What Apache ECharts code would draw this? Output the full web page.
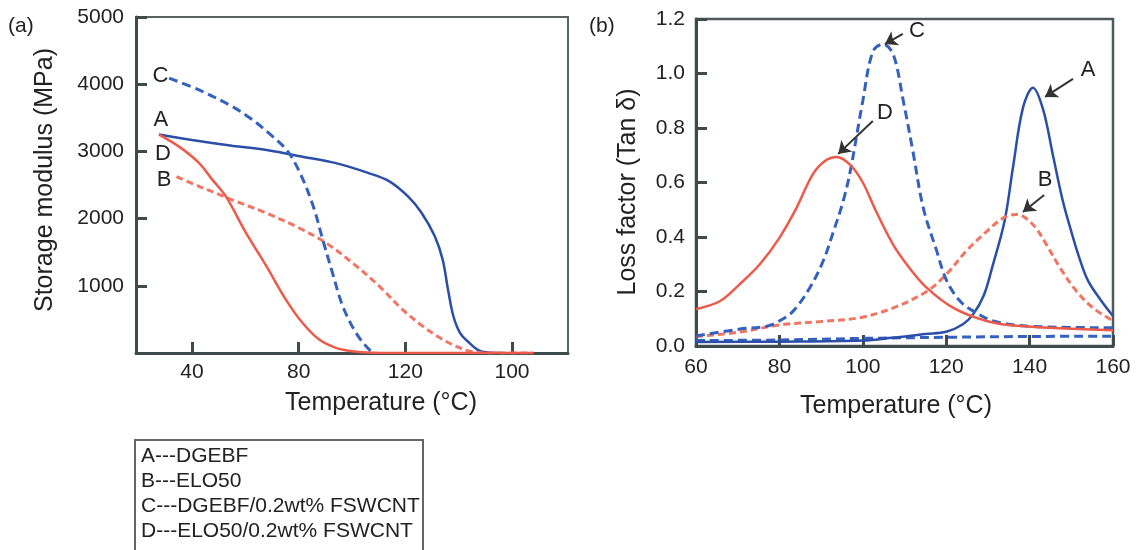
<!DOCTYPE html>
<html>
<head>
<meta charset="utf-8">
<script src="https://cdn.jsdelivr.net/npm/echarts@6/dist/echarts.min.js"></script>
<style>
  html, body { margin: 0; padding: 0; background: #fff; }
  #chart { width: 1140px; height: 550px; }
</style>
</head>
<body>
<div id="chart"></div>
<script>
const FONT = '"Liberation Sans", Arial, Helvetica, sans-serif';

// (a) Storage modulus, [temperature (°C), modulus (MPa)]
const storageA = [[27.6,3250],[40,3170],[55,3085],[69,3015],[81,2925],[94,2825],[106,2680],[114,2555],[121,2330],[126,2090],[131,1740],[134,1390],[136,945],[138,550],[140.5,300],[144,150],[147,50],[150,10],[156,0]];
const storageB = [[34.2,2625],[42.6,2480],[48.9,2380],[55,2280],[67.7,2085],[80.2,1860],[90.2,1640],[100.2,1340],[110.2,995],[119,645],[126.5,400],[134,200],[139,100],[144,27],[150,0],[168,0]];
const storageC = [[31.4,4090],[42.6,3915],[55,3670],[62,3490],[68,3300],[75.5,3020],[80.5,2680],[85.5,2180],[89,1690],[92.7,1190],[96.5,700],[101.5,300],[106.5,50],[109,0]];
const storageD = [[27.6,3250],[35,3075],[42.6,2830],[47.6,2580],[52.7,2330],[60.2,1790],[68,1285],[75.2,795],[81.4,450],[87.7,200],[94,77],[100,27],[108,5],[120,0],[168,0]];

// (b) Loss factor, [temperature (°C), tan δ]
const tanA = [[60,0.015],[80,0.016],[100,0.02],[107,0.03],[115,0.044],[120,0.052],[124,0.08],[126.5,0.117],[129,0.185],[131,0.287],[134,0.459],[136,0.654],[138.4,0.874],[140.8,0.948],[143.2,0.87],[145.6,0.70],[148,0.53],[150,0.42],[152,0.32],[154,0.24],[157,0.17],[160,0.11]];
const tanB = [[60,0.035],[70,0.05],[80,0.077],[90,0.09],[99.3,0.104],[107.3,0.14],[115.3,0.2],[120.1,0.264],[124.9,0.35],[129.7,0.42],[133.7,0.47],[136.9,0.483],[140.8,0.446],[144,0.373],[147.3,0.287],[151.3,0.2],[155.2,0.14],[160,0.092]];
const tanC = [[60,0.037],[70.5,0.062],[77,0.073],[80,0.092],[83.3,0.128],[87.3,0.214],[90.5,0.312],[93,0.422],[95.3,0.532],[97,0.642],[100,0.9],[102.4,1.08],[104.8,1.108],[107.3,1.07],[109.7,0.9],[112,0.716],[114.5,0.507],[117.7,0.35],[120.1,0.24],[123.3,0.165],[126.5,0.128],[131.3,0.092],[139.3,0.073],[160,0.067]];
const tanD = [[60,0.135],[65.8,0.165],[70.5,0.227],[75.3,0.3],[80,0.397],[84.1,0.507],[88,0.63],[91,0.68],[93.7,0.694],[97,0.665],[100,0.6],[103,0.5],[107.2,0.374],[111,0.29],[115.3,0.214],[121.7,0.14],[129.7,0.092],[137.7,0.073],[160,0.058]];
const tanBase = [[60,0.02],[80,0.022],[100,0.028],[120,0.032],[140,0.035],[160,0.036]];

// Axis ticks
const tempTicksA = [40, 80, 120, 160];
const tempTickLabelsA = ['40', '80', '120', '100'];

// Curve letters: [letter, temperature, value]
const lettersA = [['C',28.2,4122],['A',28.3,3467],['D',29.1,2961],['B',29.5,2574]];
const lettersB = [['C',113,1.156],['A',154,1.013],['D',105.3,0.855],['B',143.7,0.609]];
// Pointer arrows in (b): [from T, from value, to T, to value]
const arrowsB = [[109.6,1.145,105.3,1.108],[150.4,0.98,143.7,0.914],[102.4,0.826,94.1,0.705],[143.5,0.554,138.4,0.492]];

const legendLines = ['A---DGEBF', 'B---ELO50', 'C---DGEBF/0.2wt% FSWCNT', 'D---ELO50/0.2wt% FSWCNT'];

const BLUE = '#2b4ea8', BLUE_D = '#3561be', RED = '#ee5a4a', RED_D = '#f07563';
const AX = '#3f4a4a', TXT = '#222';

const chart = echarts.init(document.getElementById('chart'), null, { renderer: 'canvas' });

function line(name, data, xi, color, dashed, extra) {
  return Object.assign({
    name, type: 'line', data, xAxisIndex: xi, yAxisIndex: xi,
    symbol: 'none', showSymbol: false, smooth: 0.35,
    lineStyle: { color, width: dashed ? 3 : 2.5, type: dashed ? (color === RED_D ? [7, 4] : [9, 5]) : 'solid' },
    itemStyle: { color }, animation: false, silent: true, z: 3
  }, extra || {});
}

function letterPoints(list) {
  return {
    symbol: 'circle', symbolSize: 1, silent: true, animation: false,
    itemStyle: { color: 'rgba(0,0,0,0)' },
    label: { show: true, position: 'inside', formatter: '{b}', color: TXT, fontSize: 22, fontFamily: FONT },
    data: list.map(l => ({ name: l[0], coord: [l[1], l[2]] }))
  };
}

const valueAxisLabel = { color: TXT, fontSize: 21, fontFamily: FONT };

const option = {
  backgroundColor: '#fff',
  animation: false,
  grid: [
    { left: 136, right: 572, top: 17, bottom: 197, show: true, borderColor: '#596363', borderWidth: 2 },
    { left: 696, right: 27, top: 19, bottom: 204, show: true, borderColor: '#4f5959', borderWidth: 2.5 }
  ],
  xAxis: [
    {
      type: 'value', gridIndex: 0, min: 19, max: 181,
      axisLine: { lineStyle: { color: AX, width: 3 } },
      axisTick: { inside: true, length: 11, customValues: tempTicksA, lineStyle: { color: AX, width: 3 } },
      axisLabel: Object.assign({ margin: 9, customValues: tempTicksA,
        formatter: v => tempTickLabelsA[tempTicksA.indexOf(v)] }, valueAxisLabel),
      splitLine: { show: false }
    },
    {
      type: 'value', gridIndex: 1, min: 60, max: 160, interval: 20,
      axisLine: { lineStyle: { color: AX, width: 3 } },
      axisTick: { inside: true, length: 11, lineStyle: { color: AX, width: 3 } },
      axisLabel: Object.assign({ margin: 11 }, valueAxisLabel),
      splitLine: { show: false }
    }
  ],
  yAxis: [
    {
      type: 'value', gridIndex: 0, min: 0, max: 5000, interval: 1000,
      axisLine: { show: true, lineStyle: { color: AX, width: 3 } },
      axisTick: { show: true, inside: true, length: 11, lineStyle: { color: AX, width: 3 } },
      axisLabel: Object.assign({ margin: 12, showMinLabel: false, formatter: v => String(v) }, valueAxisLabel),
      splitLine: { show: false }
    },
    {
      type: 'value', gridIndex: 1, min: 0, max: 1.2, interval: 0.2,
      axisLine: { show: true, lineStyle: { color: AX, width: 3 } },
      axisTick: { show: true, inside: true, length: 11, lineStyle: { color: AX, width: 3 } },
      axisLabel: Object.assign({ margin: 11, formatter: v => v.toFixed(1) }, valueAxisLabel),
      splitLine: { show: false }
    }
  ],
  series: [
    line('A', storageA, 0, BLUE, false, { markPoint: letterPoints(lettersA) }),
    line('B', storageB, 0, RED_D, true),
    line('C', storageC, 0, BLUE_D, true),
    line('D', storageD, 0, RED, false),
    line('Base', tanBase, 1, BLUE_D, true),
    line('A', tanA, 1, BLUE, false, {
      markPoint: letterPoints(lettersB),
      markLine: {
        silent: true, animation: false, symbol: ['none', 'arrow'], symbolSize: 12,
        lineStyle: { color: '#333', width: 2, type: 'solid' }, label: { show: false },
        data: arrowsB.map(a => [{ coord: [a[0], a[1]] }, { coord: [a[2], a[3]] }])
      }
    }),
    line('B', tanB, 1, RED_D, true),
    line('C', tanC, 1, BLUE_D, true),
    line('D', tanD, 1, RED, false)
  ],
  graphic: [
    { type: 'text', x: 8, y: 26, style: { text: '(a)', fill: TXT, fontSize: 21, fontFamily: FONT, textVerticalAlign: 'middle', verticalAlign: 'middle' } },
    { type: 'text', x: 589, y: 26, style: { text: '(b)', fill: TXT, fontSize: 21, fontFamily: FONT, textVerticalAlign: 'middle', verticalAlign: 'middle' } },
    { type: 'text', x: 45, y: 180, rotation: Math.PI / 2,
      style: { text: 'Storage modulus (MPa)', fill: TXT, fontSize: 25, fontFamily: FONT, textAlign: 'center', align: 'center', textVerticalAlign: 'middle', verticalAlign: 'middle' } },
    { type: 'text', x: 628, y: 192, rotation: Math.PI / 2,
      style: { text: 'Loss factor (Tan δ)', fill: TXT, fontSize: 25, fontFamily: FONT, textAlign: 'center', align: 'center', textVerticalAlign: 'middle', verticalAlign: 'middle' } },
    { type: 'text', x: 381, y: 403,
      style: { text: 'Temperature (°C)', fill: TXT, fontSize: 25, fontFamily: FONT, textAlign: 'center', align: 'center', textVerticalAlign: 'middle', verticalAlign: 'middle' } },
    { type: 'text', x: 896, y: 406,
      style: { text: 'Temperature (°C)', fill: TXT, fontSize: 25, fontFamily: FONT, textAlign: 'center', align: 'center', textVerticalAlign: 'middle', verticalAlign: 'middle' } },
    { type: 'rect', shape: { x: 135, y: 440, width: 288, height: 130 }, style: { fill: '#fff', stroke: '#666', lineWidth: 2 } }
  ].concat(legendLines.map((t, i) => ({
    type: 'text', x: 141, y: 456.5 + i * 24.8,
    style: { text: t, fill: TXT, fontSize: 21, fontFamily: FONT, textVerticalAlign: 'middle', verticalAlign: 'middle' }
  })))
};

chart.setOption(option);
</script>
</body>
</html>
